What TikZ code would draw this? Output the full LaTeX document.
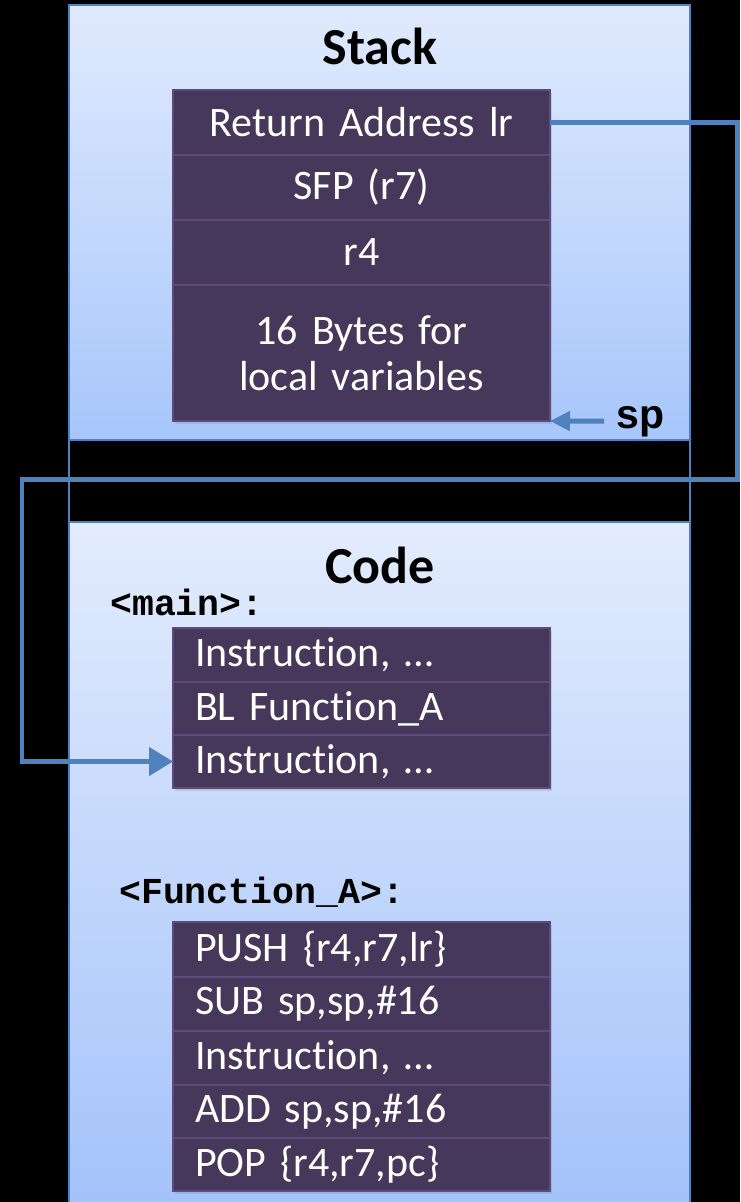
\documentclass[tikz,border=0pt]{standalone}
\usepackage{fontspec}
\setmainfont{Carlito}[Ligatures=NoCommon]
\newfontfamily\arialbold{Liberation Sans Bold}
\newfontfamily\asmfont{Liberation Mono}
\usetikzlibrary{positioning, calc, arrows.meta, shadows}
\definecolor{edge}{HTML}{4F81BD}
\definecolor{cellfill}{HTML}{45385A}
\definecolor{cellline}{HTML}{5E4B7D}
\definecolor{stacktop}{HTML}{E0EAFD}
\definecolor{stackbot}{HTML}{A7C6FB}
\definecolor{codetop}{HTML}{E3ECFD}
\definecolor{codebot}{HTML}{A3C2FA}

\begin{document}
\begin{tikzpicture}[x=1pt, y=-1pt,
    panel/.style={draw=edge, line width=1.5pt, inner sep=0pt, outer sep=0pt,
      minimum width=621pt, anchor=north west},
    cell/.style={draw=cellline, line width=1.5pt, fill=cellfill, text=white,
      font=\fontsize{42}{46}\selectfont, text width=333pt, inner xsep=22pt,
      inner ysep=0pt, outer sep=0pt, anchor=north west,
      drop shadow={opacity=0.25, shadow xshift=2pt, shadow yshift=-3pt}},
    title/.style={font=\fontsize{52}{56}\selectfont\bfseries, inner sep=0pt, anchor=base},
    asmlabel/.style={font=\asmfont\bfseries\fontsize{36.5}{40}\selectfont, inner sep=0pt, anchor=base west},
    link/.style={draw=edge, line width=4.5pt, -{Triangle[length=24pt,width=28pt]}},
    splink/.style={draw=edge, line width=5pt, -{Triangle[length=20pt,width=19pt]}}]

      \path[use as bounding box, fill=black] (0,0) rectangle (740,1202);

      % memory regions
      \node[panel, top color=stacktop, bottom color=stackbot, minimum height=435pt] (stack) at (69,5) {};
      \node[panel, top color=codetop, bottom color=codebot, minimum height=690pt] (code) at (69,522) {};
      \draw[edge, line width=1.5pt] (stack.south west) -- (code.north west);
      \draw[edge, line width=1.5pt] (stack.south east) -- (code.north east);

      \node[title] (stacktitle) at (380,64) {Stack};
      \node[title] (codetitle) at (380,583) {Code};

      % stack frame
      \node[cell, align=center, minimum height=65pt] (S1) at (173,90) {Return Address lr};
      \node[cell, align=center, minimum height=65pt, below=0pt of S1] (S2) {SFP (r7)};
      \node[cell, align=center, minimum height=65pt, below=0pt of S2] (S3) {r4};
      \node[cell, align=center, minimum height=136pt, below=0pt of S3] (S4) {16 Bytes for\\local variables};

      \node[font=\arialbold\fontsize{41}{44}\selectfont, inner sep=0pt, anchor=base west] (sp) at (616,428) {sp};

      % main
      \node[asmlabel] (mainlbl) at (110,615) {<main>:};
      \node[cell, align=left, minimum height=54pt] (M1) at (173,628) {Instruction, \dots};
      \node[cell, align=left, minimum height=53pt, below=0pt of M1] (M2) {BL Function\_A};
      \node[cell, align=left, minimum height=53pt, below=0pt of M2] (M3) {Instruction, \dots};

      % Function_A
      \node[asmlabel] (funclbl) at (119,903) {<Function\_A>:};
      \node[cell, align=left, minimum height=55pt] (F1) at (173,922) {PUSH \{r4,r7,lr\}};
      \node[cell, align=left, minimum height=54pt, below=0pt of F1] (F2) {SUB sp,sp,\#16};
      \node[cell, align=left, minimum height=54pt, below=0pt of F2] (F3) {Instruction, \dots};
      \node[cell, align=left, minimum height=53pt, below=0pt of F3] (F4) {ADD sp,sp,\#16};
      \node[cell, align=left, minimum height=53pt, below=0pt of F4] (F5) {POP \{r4,r7,pc\}};

      \coordinate (turnR) at (737.5,479.5);
      \coordinate (turnL) at (22,479.5);

      \draw[link] (S1.east) -| (turnR) -- (turnL) |- (M3.west);
      \draw[splink, shorten <=12pt] (sp.west) -- (S4.south east);
    \end{tikzpicture}
\end{document}
